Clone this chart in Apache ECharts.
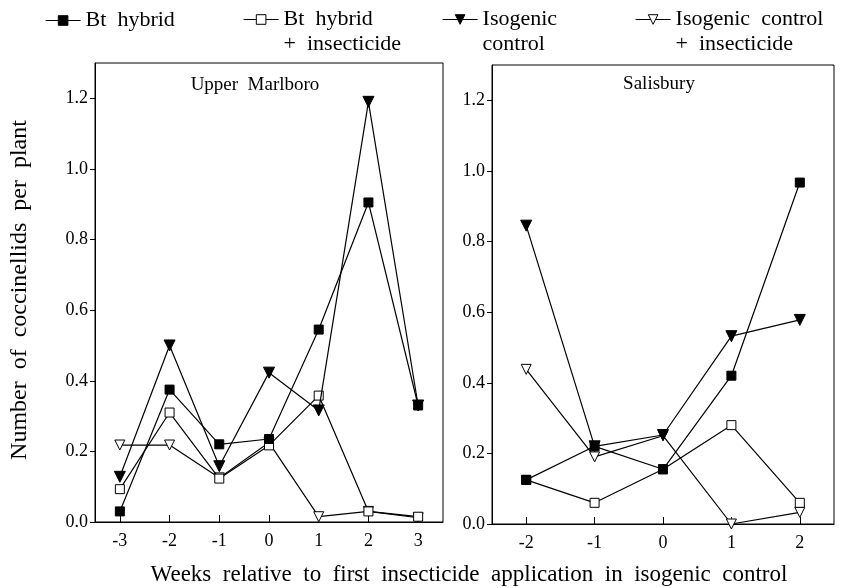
<!DOCTYPE html>
<html><head><meta charset="utf-8">
<script src="https://cdn.jsdelivr.net/npm/echarts@6/dist/echarts.min.js"></script>
<style>html,body{margin:0;padding:0;background:#fff}#c{width:845px;height:588px}</style>
</head><body><div id="c"></div>
<script>
// ---- data ----
const seriesNames = ['Bt hybrid', 'Bt hybrid + insecticide', 'Isogenic control', 'Isogenic control + insecticide'];
const legendLabels = ['Bt  hybrid', '\nBt  hybrid\n+  insecticide', '\nIsogenic\ncontrol', '\nIsogenic  control\n+  insecticide'];
const panelTitles = ['Upper  Marlboro', 'Salisbury'];
const weeksUM = [-3, -2, -1, 0, 1, 2, 3];
const weeksSA = [-2, -1, 0, 1, 2];
const umBt     = [0.03, 0.375, 0.22, 0.235, 0.545, 0.905, 0.33];
const umBtIns  = [0.093, 0.31, 0.123, 0.217, 0.358, 0.03, 0.015];
const umIso    = [0.128, 0.5, 0.158, 0.423, 0.316, 1.19, 0.33];
const umIsoIns = [0.218, 0.218, 0.125, 0.225, 0.015, 0.03, 0.012];
const saBt     = [0.125, 0.22, 0.155, 0.42, 0.967];
const saBtIns  = [0.125, 0.06, 0.155, 0.28, 0.06];
const saIso    = [0.845, 0.22, 0.252, 0.532, 0.578];
const saIsoIns = [0.438, 0.19, 0.25, 0.0, 0.033];
const yTicks = [0, 0.2, 0.4, 0.6, 0.8, 1.0, 1.2];
const xTitle = 'Weeks  relative  to  first  insecticide  application  in  isogenic  control';
const yTitle = 'Number  of  coccinellids  per  plant';

// ---- styles ----
const FONT = 'Liberation Serif';
const symbolStyles = [
  { symbol: 'rect', symbolSize: 9, symbolRotate: 0, fill: '#000', z: 6 },
  { symbol: 'rect', symbolSize: 9, symbolRotate: 0, fill: '#fff', z: 4 },
  { symbol: 'triangle', symbolSize: 11, symbolRotate: 180, fill: '#000', z: 5 },
  { symbol: 'triangle', symbolSize: 10, symbolRotate: 180, fill: '#fff', z: 3 }
];
function mkSeries(i, weeks, vals, axisIndex) {
  const s = symbolStyles[i];
  return {
    type: 'line', name: seriesNames[i], xAxisIndex: axisIndex, yAxisIndex: axisIndex,
    data: weeks.map((w, k) => [w, vals[k]]),
    symbol: s.symbol, symbolSize: s.symbolSize, symbolRotate: s.symbolRotate,
    showAllSymbol: true, clip: false,
    lineStyle: { color: '#000', width: 1.2 },
    itemStyle: { color: s.fill, borderColor: '#000', borderWidth: 1 },
    emphasis: { disabled: true }, z: s.z
  };
}
function xAxisFor(idx, weeks, min, max) {
  return {
    type: 'value', gridIndex: idx, min: min, max: max,
    axisLine: { show: true, onZero: false, lineStyle: { color: '#000', width: 1 } },
    axisTick: { show: true, inside: true, length: 7, customValues: weeks, lineStyle: { color: '#000' } },
    axisLabel: { customValues: weeks, formatter: v => String(v), margin: 10, color: '#000', fontFamily: FONT, fontSize: 18 },
    splitLine: { show: false }
  };
}
function yAxisFor(idx) {
  return {
    type: 'value', gridIndex: idx, min: 0, max: 1.3,
    axisLine: { show: true, onZero: false, lineStyle: { color: '#000', width: 1 } },
    axisTick: { show: true, inside: false, length: 5, customValues: yTicks, lineStyle: { color: '#000' } },
    axisLabel: { customValues: yTicks, formatter: v => v.toFixed(1), margin: 7, color: '#000', fontFamily: FONT, fontSize: 18 },
    splitLine: { show: false }
  };
}
const legendPos = [
  { left: 45, top: 8 },
  { left: 243, top: -18 },
  { left: 442, top: -18 },
  { left: 635, top: -18 }
];
const legends = seriesNames.map((n, i) => ({
  data: [n], left: legendPos[i].left, top: legendPos[i].top, padding: 0,
  orient: 'horizontal', selectedMode: false, itemWidth: 35, itemHeight: 12,
  itemStyle: { borderWidth: 1, borderColor: '#000' },
  lineStyle: { width: 1.2, color: '#000' },
  formatter: () => legendLabels[i],
  textStyle: { fontFamily: FONT, fontSize: 22, color: '#000', lineHeight: 25 }
}));

const chart = echarts.init(document.getElementById('c'), null, { renderer: 'canvas' });
chart.setOption({
  backgroundColor: '#fff',
  animation: false,
  legend: legends,
  grid: [
    { left: 95, top: 63, width: 348, height: 459, show: true, borderColor: '#000', borderWidth: 1, backgroundColor: 'transparent' },
    { left: 492, top: 65, width: 342, height: 459, show: true, borderColor: '#000', borderWidth: 1, backgroundColor: 'transparent' }
  ],
  xAxis: [xAxisFor(0, weeksUM, -3.5, 3.5), xAxisFor(1, weeksSA, -2.5, 2.5)],
  yAxis: [yAxisFor(0), yAxisFor(1)],
  series: [
    mkSeries(0, weeksUM, umBt, 0), mkSeries(1, weeksUM, umBtIns, 0),
    mkSeries(2, weeksUM, umIso, 0), mkSeries(3, weeksUM, umIsoIns, 0),
    mkSeries(0, weeksSA, saBt, 1), mkSeries(1, weeksSA, saBtIns, 1),
    mkSeries(2, weeksSA, saIso, 1), mkSeries(3, weeksSA, saIsoIns, 1)
  ],
  graphic: [
    { type: 'text', x: 255, y: 85, style: { text: panelTitles[0], align: 'center', verticalAlign: 'middle', fill: '#000', font: '19px "' + FONT + '"' } },
    { type: 'text', x: 659, y: 84, style: { text: panelTitles[1], align: 'center', verticalAlign: 'middle', fill: '#000', font: '19px "' + FONT + '"' } },
    { type: 'text', x: 469, y: 575, style: { text: xTitle, align: 'center', verticalAlign: 'middle', fill: '#000', font: '23px "' + FONT + '"' } },
    { type: 'text', x: 20, y: 290, rotation: Math.PI / 2, style: { text: yTitle, align: 'center', verticalAlign: 'middle', fill: '#000', font: '24px "' + FONT + '"' } }
  ]
});
</script></body></html>
